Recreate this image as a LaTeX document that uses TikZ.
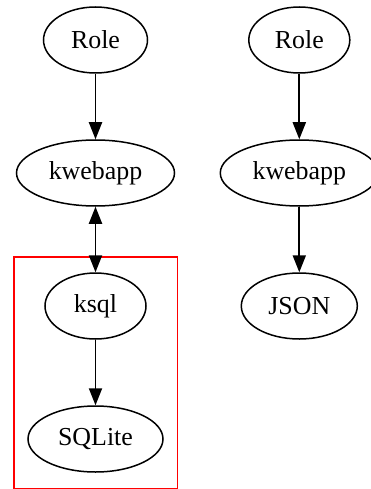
\documentclass[tikz,border=0pt]{standalone}
\usepackage{fontspec}
\setmainfont{Liberation Serif}
\usetikzlibrary{arrows.meta, shapes.geometric, fit}
\tikzset{
    blob/.style={
        draw,
        ellipse,
        line width=1.5pt,
        inner sep=0pt,
        minimum height=66pt,
        font=\fontsize{25.9}{30}\selectfont
    },
    line/.style={-{Triangle[length=17pt, width=13pt]}, line width=1.85pt},
    twoway/.style={{Triangle[length=17pt, width=13pt]}-{Triangle[length=17pt, width=13pt]}, line width=1.85pt},
    cluster/.style={draw=red, line width=1.5pt, inner xsep=13.5pt, inner ysep=15.5pt}
}
\begin{document}
\begin{tikzpicture}[x=1pt, y=-1pt]
\useasboundingbox (0,0) rectangle (370,489);

\node[blob, minimum width=104pt] (role) at (95.5,40) {Role};
\node[blob, minimum width=158pt] (web) at (95.5,173) {kwebapp};
\node[blob, minimum width=101pt] (ksql) at (95.5,306) {ksql};
\node[blob, minimum width=135pt] (sqlite) at (95.5,439) {SQLite};

\node[blob, minimum width=101pt] (role2) at (299.3,40) {Role};
\node[blob, minimum width=158pt] (web2) at (299.3,173) {kwebapp};
\node[blob, minimum width=116pt] (json) at (299.3,306) {JSON};

% red cluster
\node[cluster, fit=(ksql)(sqlite)] (box) {};

\draw[line] (role) -- (web);
\draw[twoway] (web) -- (ksql);
\draw[line] (ksql) -- (sqlite);
\draw[line] (role2) -- (web2);
\draw[line] (web2) -- (json);
\end{tikzpicture}
\end{document}
